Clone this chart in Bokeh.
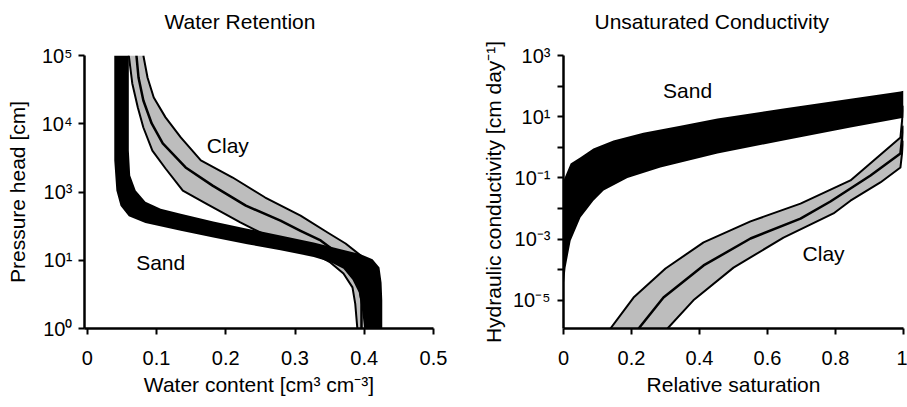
from bokeh.plotting import figure
from bokeh.models import FixedTicker, Label
from bokeh.layouts import row
from bokeh.embed import file_html
from bokeh.resources import INLINE

FONT = "Liberation Sans"

# ---------------- Water retention (left panel) ----------------
# y values are given in the panel's plotted log scale (axis labelled 10^0,10^1,10^3,10^4,10^5)
sand_hi_theta = [0.060, 0.060, 0.062, 0.070, 0.084, 0.106, 0.135, 0.182, 0.231, 0.279, 0.327, 0.366, 0.394, 0.412, 0.422, 0.425, 0.426, 0.426]
sand_hi_h = [10000, 405, 174, 105, 72, 57, 48, 37, 29, 23, 18.2, 14.5, 12.3, 10.3, 7.8, 4.7, 2.6, 1]
sand_lo_theta = [0.039, 0.039, 0.042, 0.048, 0.060, 0.084, 0.135, 0.182, 0.231, 0.279, 0.327, 0.351, 0.370, 0.383, 0.392, 0.397, 0.400]
sand_lo_h = [10000, 290, 105, 63, 44, 35, 27, 21.5, 17.2, 14, 11.2, 9.4, 7.5, 5.2, 3.4, 1.8, 1]

clay_hi_theta = [0.081, 0.087, 0.096, 0.113, 0.135, 0.164, 0.210, 0.257, 0.308, 0.347, 0.373, 0.395, 0.402, 0.403, 0.403]
clay_hi_h = [10000, 4760, 2430, 1240, 630, 290, 163, 83, 45, 25.5, 17.6, 11.7, 7.1, 2.6, 1]
clay_mid_theta = [0.071, 0.074, 0.081, 0.093, 0.109, 0.142, 0.181, 0.229, 0.279, 0.308, 0.337, 0.366, 0.384, 0.392, 0.396, 0.396]
clay_mid_h = [10000, 4760, 2190, 1010, 514, 229, 124, 63, 38, 27, 19.5, 11.7, 7.6, 4.7, 2.6, 1]
clay_lo_theta = [0.060, 0.065, 0.073, 0.081, 0.094, 0.113, 0.138, 0.171, 0.200, 0.221, 0.250, 0.286, 0.327, 0.351, 0.370, 0.383, 0.387, 0.390]
clay_lo_h = [10000, 3890, 1730, 881, 405, 221, 105, 68, 47, 36, 25.5, 18.2, 12.6, 9.3, 6.4, 4.0, 2.3, 1]

wr_xticks = [0, 0.1, 0.2, 0.3, 0.4, 0.5]
wr_xlabels = ["0", "0.1", "0.2", "0.3", "0.4", "0.5"]
wr_yticks = [1, 10, 100, 1000, 10000]
wr_ylabels = ["10\u2070", "10\u00b9", "10\u00b3", "10\u2074", "10\u2075"]

# ---------------- Unsaturated conductivity (right panel) ----------------
ksand_hi_s = [0, 0.021, 0.05, 0.088, 0.147, 0.235, 0.344, 0.453, 0.647, 0.844, 0.991, 1.0]
ksand_hi_k = [0.083, 0.295, 0.47, 0.91, 1.66, 3.0, 5.1, 8.7, 18.6, 38.9, 66, 71]
ksand_lo_s = [0, 0.006, 0.021, 0.05, 0.088, 0.118, 0.188, 0.285, 0.453, 0.647, 0.844, 1.0]
ksand_lo_k = [2.6e-5, 1.17e-4, 8.9e-4, 5.1e-3, 0.018, 0.039, 0.10, 0.22, 0.63, 1.66, 4.47, 9.3]

kclay_hi_s = [0.138, 0.206, 0.300, 0.412, 0.550, 0.697, 0.844, 0.991, 1.0]
kclay_hi_k = [1.2e-6, 1.23e-5, 1.1e-4, 7.8e-4, 3.8e-3, 0.0145, 0.083, 2.1, 23]
kclay_mid_s = [0.221, 0.294, 0.412, 0.550, 0.697, 0.785, 0.903, 0.991, 1.0]
kclay_mid_k = [1.2e-6, 1.23e-5, 1.38e-4, 1.05e-3, 4.7e-3, 0.017, 0.12, 0.63, 5.1]
kclay_lo_s = [0.306, 0.382, 0.500, 0.647, 0.794, 0.844, 0.932, 0.991, 1.0]
kclay_lo_k = [1.2e-6, 1.0e-5, 1.17e-4, 1.12e-3, 6.9e-3, 0.018, 0.071, 0.22, 1.66]

uc_xticks = [0, 0.2, 0.4, 0.6, 0.8, 1.0]
uc_xlabels = ["0", "0.2", "0.4", "0.6", "0.8", "1"]
uc_yticks = [1e3, 1e1, 1e-1, 1e-3, 1e-5]
uc_ylabels = ["10\u00b3", "10\u00b9", "10\u207b\u00b9", "10\u207b\u00b3", "10\u207b\u2075"]
uc_yminor = [1e2, 1e0, 1e-2, 1e-4]

GREY = "#bdbdbd"


def style(p, title, offset):
    p.outline_line_color = None
    p.grid.visible = False
    for ax in p.axis:
        ax.axis_line_width = 2.5
        ax.axis_line_color = "black"
        ax.major_tick_line_width = 2
        ax.major_tick_line_color = "black"
        ax.major_tick_in = 0
        ax.major_tick_out = 6
        ax.minor_tick_line_color = None
        ax.major_label_text_font = FONT
        ax.major_label_text_font_size = "20px"
        ax.major_label_text_color = "black"
        ax.axis_label_text_font = FONT
        ax.axis_label_text_font_size = "21px"
        ax.axis_label_text_font_style = "normal"
        ax.axis_label_text_color = "black"
    # trailing newline lifts the title one line above the frame
    p.title.text = title + "\n"
    p.title.align = "left"
    p.title.offset = offset
    p.title.standoff = 0
    p.title.text_font = FONT
    p.title.text_font_size = "21px"
    p.title.text_font_style = "normal"
    p.title.text_color = "black"


def band(p, hx, hy, lx, ly, color):
    xs = list(hx) + list(lx)[::-1]
    ys = list(hy) + list(ly)[::-1]
    p.patch(xs, ys, fill_color=color, line_color=None)


def text_label(p, x, y, t):
    p.add_layout(Label(x=x, y=y, text=t, text_align="center", text_baseline="middle",
                       text_font=FONT, text_font_size="21px", text_color="black"))


# ---- left figure ----
p1 = figure(width=463, height=407, x_range=(-0.004, 0.5), y_range=(1, 10000),
            y_axis_type="log", output_backend="svg", toolbar_location=None,
            min_border_left=84, min_border_right=30, min_border_top=55, min_border_bottom=79)
style(p1, "Water Retention", 80)
band(p1, clay_hi_theta, clay_hi_h, clay_lo_theta, clay_lo_h, GREY)
for xs, ys, w in [(clay_hi_theta, clay_hi_h, 2), (clay_lo_theta, clay_lo_h, 2), (clay_mid_theta, clay_mid_h, 2.5)]:
    p1.line(xs, ys, line_color="black", line_width=w, line_join="round")
band(p1, sand_hi_theta, sand_hi_h, sand_lo_theta, sand_lo_h, "black")

p1.xaxis.ticker = FixedTicker(ticks=wr_xticks)
p1.xaxis.major_label_overrides = dict(zip(wr_xticks, wr_xlabels))
p1.yaxis.ticker = FixedTicker(ticks=wr_yticks)
p1.yaxis.major_label_overrides = dict(zip(wr_yticks, wr_ylabels))
p1.xaxis.axis_label = "Water content [cm\u00b3 cm\u207b\u00b3]"
p1.yaxis.axis_label = "Pressure head [cm]"
p1.xaxis.major_label_standoff = 16
p1.xaxis.axis_label_standoff = 5
p1.yaxis.major_label_standoff = 6
p1.yaxis.axis_label_standoff = 10

text_label(p1, 0.203, 479, "Clay")
text_label(p1, 0.106, 9.3, "Sand")

# ---- right figure ----
p2 = figure(width=444, height=407, x_range=(0, 1.0), y_range=(1.2e-6, 1000),
            y_axis_type="log", output_backend="svg", toolbar_location=None,
            min_border_left=100, min_border_right=4, min_border_top=55, min_border_bottom=79)
style(p2, "Unsaturated Conductivity", 31)
band(p2, kclay_hi_s, kclay_hi_k, kclay_lo_s, kclay_lo_k, GREY)
for xs, ys, w in [(kclay_hi_s, kclay_hi_k, 2), (kclay_lo_s, kclay_lo_k, 2), (kclay_mid_s, kclay_mid_k, 2.5)]:
    p2.line(xs, ys, line_color="black", line_width=w, line_join="round")
band(p2, ksand_hi_s, ksand_hi_k, ksand_lo_s, ksand_lo_k, "black")

p2.xaxis.ticker = FixedTicker(ticks=uc_xticks)
p2.xaxis.major_label_overrides = dict(zip(uc_xticks, uc_xlabels))
p2.yaxis.ticker = FixedTicker(ticks=uc_yticks, minor_ticks=uc_yminor)
p2.yaxis.major_label_overrides = dict(zip(uc_yticks, uc_ylabels))
p2.yaxis.minor_tick_line_color = "black"
p2.yaxis.minor_tick_line_width = 2
p2.yaxis.minor_tick_in = 0
p2.yaxis.minor_tick_out = 6
p2.xaxis.axis_label = "Relative saturation"
p2.yaxis.axis_label = "Hydraulic conductivity [cm day\u207b\u00b9]"
p2.xaxis.major_label_standoff = 16
p2.xaxis.axis_label_standoff = 5
p2.yaxis.major_label_standoff = 7
p2.yaxis.axis_label_standoff = 5

text_label(p2, 0.365, 72, "Sand")
text_label(p2, 0.765, 3.4e-4, "Clay")

layout = row(p1, p2)
open("out.html", "w").write(file_html(layout, INLINE))
